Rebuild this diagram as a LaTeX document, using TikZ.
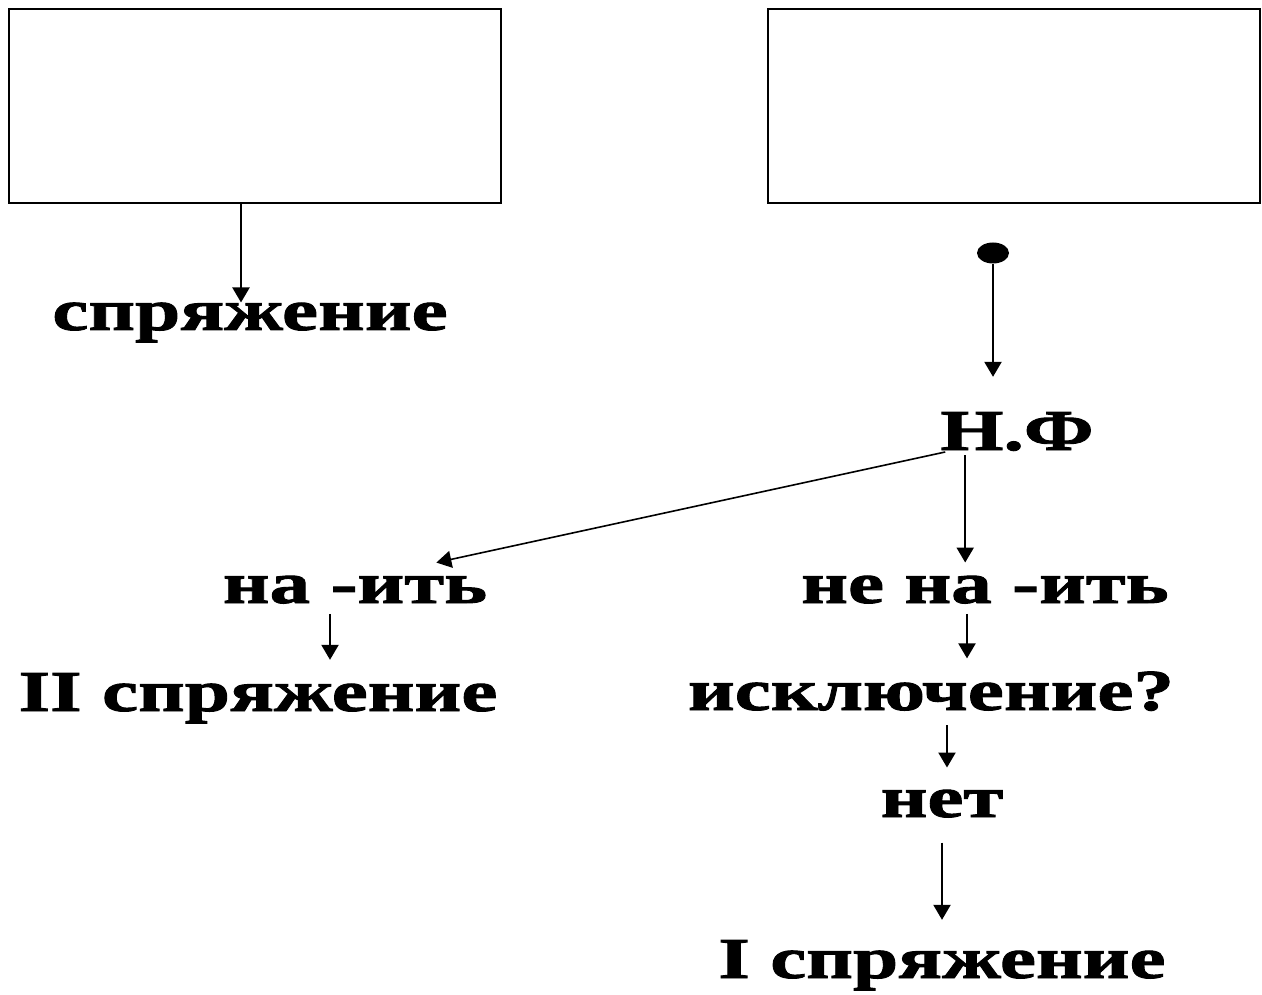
\documentclass[tikz,border=0pt]{standalone}
\usepackage{fontspec}
\setmainfont{Liberation Serif}
\newfontfamily\wideserif[FakeStretch=1.4,FakeBold=1.6]{Liberation Serif}
\usetikzlibrary{arrows.meta}
\usetikzlibrary{shapes.geometric}
\newcommand{\wordsize}{\fontsize{58}{60}\selectfont}
\tikzset{
    frame/.style={draw, line width=2pt, anchor=north west, minimum width=492pt, minimum height=194pt},
    word/.style={font=\wideserif\bfseries\wordsize, inner sep=0pt, anchor=base},
    link/.style={line width=2.2pt, -{Triangle[width=17pt,length=15pt]}},
    slant link/.style={link, line width=1.6pt},
    dot/.style={ellipse, fill, minimum width=32pt, minimum height=21pt, inner sep=0pt}
}

\begin{document}
\begin{tikzpicture}[x=1pt, y=-1pt]
    \useasboundingbox (0,0) rectangle (1262,995);
    % empty frames
    \node[frame] (leftbox) at (8,8) {};
    \node[frame] (rightbox) at (767,8) {};
    % words
    \node[word] (conj) at (250,330) {спряжение};
    \node[dot] (start) at (993,253) {};
    \node[word] (form) at (1017,450) {Н.Ф};
    \node[word] (nait) at (355,603) {на -ить};
    \node[word] (nenait) at (985,603) {не на -ить};
    \node[word] (second) at (258,711) {II спряжение};
    \node[word] (except) at (931,710) {исключение?};
    \node[word] (no) at (942,817) {нет};
    \node[word] (first) at (942,978) {I спряжение};
    % arrows
    \draw[link] ([xshift=-14pt]leftbox.south) -- ([xshift=-14pt]leftbox.south |- conj.north);
    \draw[link] (start.south) -- ([yshift=35pt]start.south |- form.north);
    \draw[slant link] ([xshift=5pt,yshift=-2pt]form.base west) -- ([xshift=-51pt,yshift=13pt]nait.north east);
    \draw[link] ([xshift=25pt,yshift=-5pt]form.base west) -- ([xshift=25pt,yshift=13pt]form.base west |- nenait.north);
    \draw[link] ([xshift=-25pt,yshift=-10pt]nait.south) -- ([xshift=-25pt,yshift=13pt]nait.south |- second.north);
    \draw[link] ([xshift=-18pt,yshift=-10pt]nenait.south) -- ([xshift=-18pt,yshift=13pt]nenait.south |- except.north);
    \draw[link] ([xshift=16pt,yshift=-14pt]except.south) -- ([xshift=16pt,yshift=22pt]except.south |- no.north);
    \draw[link] ([yshift=-25pt]no.south) -- ([yshift=20pt]no.south |- first.north);
\end{tikzpicture}
\end{document}
